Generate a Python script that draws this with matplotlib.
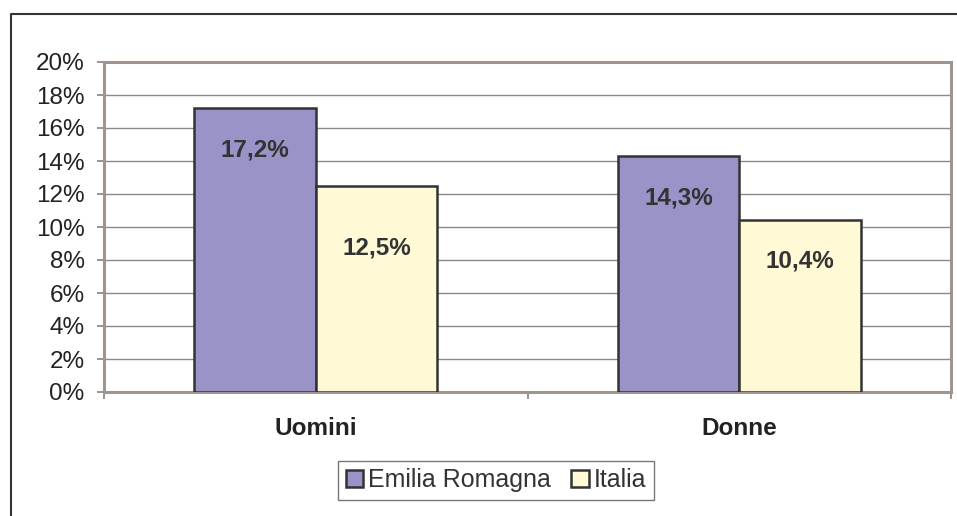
import matplotlib.pyplot as plt
from matplotlib.lines import Line2D
import numpy as np

plt.rcParams['font.family'] = ['Liberation Sans', 'DejaVu Sans']

categorie = ['Uomini', 'Donne']
emilia = [17.2, 14.3]
italia = [12.5, 10.4]
etichette_emilia = ['17,2%', '14,3%']
etichette_italia = ['12,5%', '10,4%']
yticks = [0, 2, 4, 6, 8, 10, 12, 14, 16, 18, 20]

fig = plt.figure(figsize=(9.57, 5.16), dpi=100)
ax = fig.add_axes([104 / 957, 1 - 392 / 516, 847 / 957, 330 / 516])

x = np.arange(len(categorie))
w = 0.287
b1 = ax.bar(x - w / 2, emilia, w, color='#9993C8', edgecolor='#333333', lw=1.8,
            label='Emilia Romagna', zorder=3)
b2 = ax.bar(x + w / 2, italia, w, color='#FFF9D6', edgecolor='#333333', lw=1.8,
            label='Italia', zorder=3)

# etichette dentro le barre
for rect, txt, off in zip(b1, etichette_emilia, [-30, -30]):
    ax.annotate(txt, (rect.get_x() + rect.get_width() / 2, rect.get_height()),
                xytext=(0, off), textcoords='offset points', ha='center', va='center',
                fontsize=17.5, fontweight='bold', color='#333333', zorder=4)
for rect, txt, off in zip(b2, etichette_italia, [-45, -29]):
    ax.annotate(txt, (rect.get_x() + rect.get_width() / 2, rect.get_height()),
                xytext=(0, off), textcoords='offset points', ha='center', va='center',
                fontsize=17.5, fontweight='bold', color='#333333', zorder=4)

ax.set_xlim(-0.5, 1.5)
ax.set_ylim(0, 20)
ax.set_yticks(yticks)
ax.set_yticklabels(['%d%%' % v for v in yticks], fontsize=17.5, color='#222222')
ax.yaxis.grid(True, color='#8A8A8A', lw=1.0, zorder=0)

ax.set_xticks([-0.5, 0.5, 1.5])
ax.set_xticklabels([])
ax.set_xticks(x, minor=True)
ax.set_xticklabels(categorie, minor=True, fontsize=17.5, fontweight='bold', color='#222222')
ax.tick_params(axis='x', which='minor', length=0, pad=18)
ax.tick_params(axis='x', which='major', length=5, color='#8A8080', width=1.2)
ax.tick_params(axis='y', length=5, color='#8A8080', width=1.2, pad=9)

for s in ax.spines.values():
    s.set_color('#A0948F')
    s.set_linewidth(2.2)

fig.legend(loc='center', bbox_to_anchor=(496 / 957, 1 - 480 / 516), ncol=2,
           fontsize=18, frameon=True, fancybox=False, edgecolor='#555555',
           handlelength=0.7, handleheight=0.7, handletextpad=0.2, columnspacing=0.8,
           borderpad=0.3, labelcolor='#333333')

# cornice del grafico
fig.add_artist(Line2D([11 / 957, 11 / 957, 1.0], [0.0, 1 - 14 / 516, 1 - 14 / 516],
                      color='#333333', lw=1.5))

plt.savefig('out.png', dpi=100)
